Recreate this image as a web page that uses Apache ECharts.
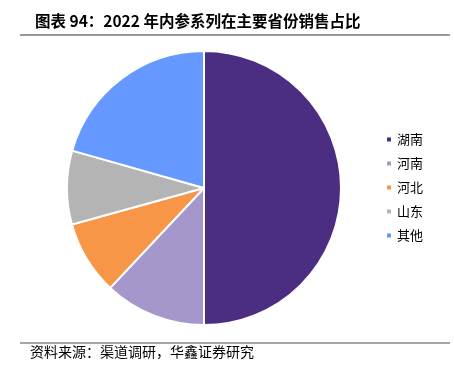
<!DOCTYPE html>
<html><head><meta charset="utf-8">
<script src="https://cdn.jsdelivr.net/npm/echarts@6/dist/echarts.min.js"></script>
<style>html,body{margin:0;padding:0;background:#fff}#c{width:454px;height:374px}</style>
</head><body><div id="c"></div>
<script>
const categories = ['湖南','河南','河北','山东','其他'];
const values = [50, 12, 8.7, 8.7, 20.6];
const colors = ['#4B2D82','#A597CC','#F79646','#B4B4B4','#6699FF'];
const titleText = '图表 94：2022 年内参系列在主要省份销售占比';
const sourceText = '资料来源：渠道调研，华鑫证券研究';

const chart = echarts.init(document.getElementById('c'));
chart.setOption({
  animation: false,
  title: {
    text: titleText, left: 30, top: 8,
    textStyle: {fontFamily: 'Noto Sans CJK SC', fontSize: 15.5, fontWeight: 'bold', color: '#000'}
  },
  legend: {
    orient: 'vertical', left: 380, top: 128, itemWidth: 6, itemHeight: 6, itemGap: 11,
    icon: 'rect',
    textStyle: {fontFamily: 'Noto Sans CJK SC', fontSize: 13, color: '#000'},
    data: categories
  },
  graphic: [
    {type: 'line', shape: {x1: 20, y1: 35, x2: 450, y2: 35}, style: {stroke: '#777', lineWidth: 1.5}},
    {type: 'line', shape: {x1: 20, y1: 343, x2: 450, y2: 343}, style: {stroke: '#888', lineWidth: 1.5}},
    {type: 'text', left: 30, top: 345, style: {text: sourceText, font: '14px "Noto Sans CJK SC"', fill: '#000'}}
  ],
  series: [{
    type: 'pie', center: [204, 188], radius: 137, startAngle: 90, clockwise: true,
    label: {show: false}, labelLine: {show: false},
    itemStyle: {borderColor: '#fff', borderWidth: 2},
    data: categories.map((c, i) => ({name: c, value: values[i], itemStyle: {color: colors[i]}}))
  }]
});
</script></body></html>
